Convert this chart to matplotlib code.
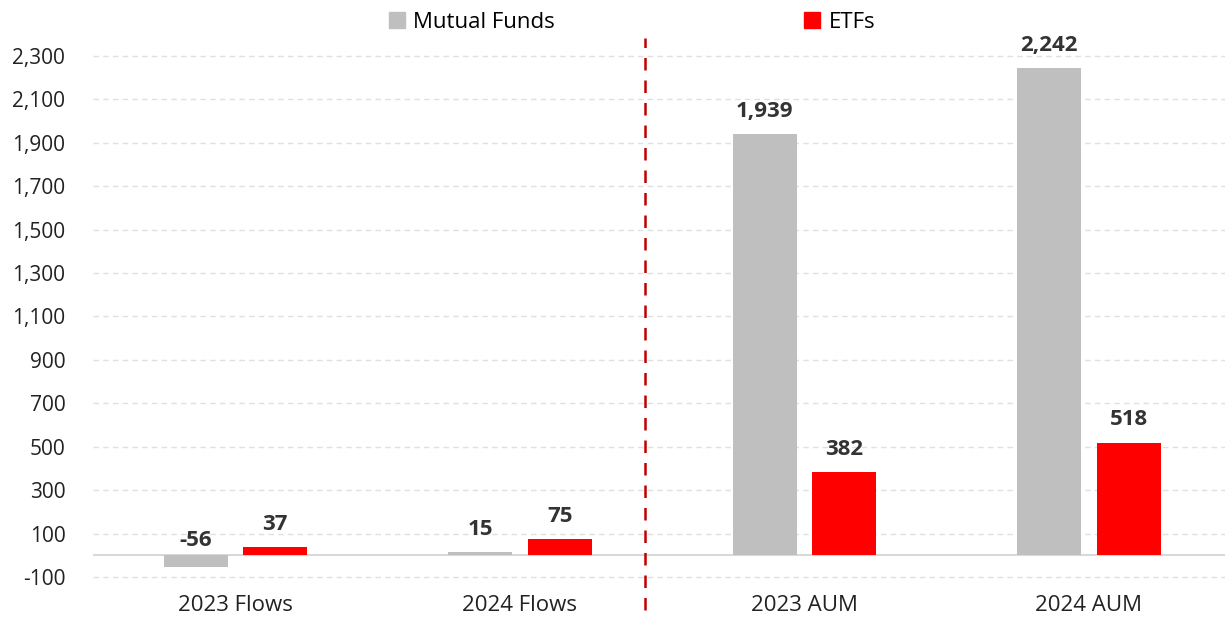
import numpy as np
import matplotlib.pyplot as plt
from matplotlib.patches import Patch

plt.rcParams['font.family'] = ['Open Sans', 'DejaVu Sans']

categorias = ["2023 Flows", "2024 Flows", "2023 AUM", "2024 AUM"]
mutual_funds = [-56, 15, 1939, 2242]
etfs = [37, 75, 382, 518]
ticks_y = [-100, 100, 300, 500, 700, 900, 1100, 1300, 1500, 1700, 1900, 2100, 2300]

gris = "#bfbfbf"
rojo = "#ff0000"

fig = plt.figure(figsize=(12.25, 6.19), dpi=100)
ax = fig.add_axes([0.076, 0.045, 0.929, 0.893])

x = np.arange(len(categorias))
ancho = 0.225
ax.bar(x - 0.14, mutual_funds, ancho, color=gris, label="Mutual Funds", zorder=3)
ax.bar(x + 0.14, etfs, ancho, color=rojo, label="ETFs", zorder=3)

for xs, vals in [(x - 0.14, mutual_funds), (x + 0.14, etfs)]:
    for xi, v in zip(xs, vals):
        off = 3 if v < 0 else 9
        ax.annotate(f"{v:,}", (xi, max(v, 0)), xytext=(0, off), textcoords="offset points",
                    ha="center", va="bottom", fontsize=16, fontweight="bold", color="#333333")

ax.set_xlim(-0.5, 3.5)
ax.set_ylim(-165, 2380)
ax.set_yticks(ticks_y)
ax.set_yticklabels([f"{t:,}" for t in ticks_y])
ax.set_xticks(x)
ax.set_xticklabels(categorias)
ax.tick_params(axis="both", length=0, colors="#222222")
ax.tick_params(axis="x", pad=3, labelsize=16)
ax.tick_params(axis="y", pad=20, labelsize=15)
for s in ax.spines.values():
    s.set_visible(False)

ax.grid(axis="y", color="#e0e0e0", linestyle=(0, (4, 3)), linewidth=1, zorder=0)
ax.axhline(0, color="#d9d9d9", linewidth=1.5, zorder=2)

ax.plot([1.44, 1.44], [-250, 2380], color="#c00000", linestyle=(0, (5, 4)),
        linewidth=1.8, clip_on=False, zorder=4)

handles = [Patch(color=gris), Patch(color=rojo)]
fig.legend(handles, ["Mutual Funds", "ETFs"], loc="upper center", bbox_to_anchor=(0.516, 1.013),
           ncol=2, frameon=False, fontsize=16, handlelength=0.7, handleheight=0.7,
           handletextpad=0.4, columnspacing=11.2)

fig.savefig("out.png", dpi=100)
